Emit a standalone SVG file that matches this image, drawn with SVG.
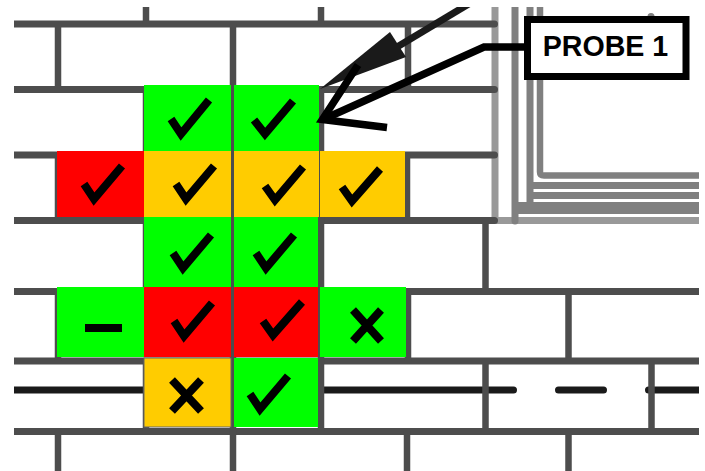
<svg xmlns="http://www.w3.org/2000/svg" width="705" height="471" viewBox="0 0 705 471">
<defs>
<clipPath id="frame"><rect x="14" y="7" width="685" height="464"/></clipPath>
</defs>
<style>
.w{stroke:#4d4d4d;stroke-width:7;fill:none;stroke-linecap:round}
.v{stroke:#4d4d4d;stroke-width:6.500;fill:none}
.g{stroke:#808080;fill:none;stroke-linecap:round}
.lg{stroke:#999;stroke-width:7;fill:none}
.m{stroke:#000;stroke-width:7.500;fill:none;stroke-linejoin:miter;stroke-miterlimit:10}
.gr{fill:#0f0}.or{fill:#fc0}.re{fill:#f00}
.k{stroke:#000;stroke-width:8;fill:none}
</style>
<rect width="705" height="471" fill="#fff"/>
<g id="building" clip-path="url(#frame)">
<path d="M10 390H513.500M558.500 390H603.500M648.500 390H710" stroke="#1a1a1a" stroke-width="7" stroke-linecap="round" fill="none"/>
<path class="lg" d="M495 7V220.500H699"/>
<g class="g">
<path d="M515 4V221" stroke-width="7"/>
<path d="M530 4V204" stroke-width="7" stroke-linecap="butt"/>
<path d="M540 4V172Q540 175.500 544 175.500H710" stroke-width="6.500"/>
<path d="M532 185.500H710M532 195.500H710" stroke-width="7" stroke-linecap="butt"/>
<path d="M515 208H710" stroke-width="12" stroke-linecap="butt"/>
</g>
<circle cx="651" cy="16.500" r="3.500" fill="#808080"/>
<path class="w" d="M4 24H494.500M4 89.500H494.500M4 155H494.500M4 220.500H494.500M4 291.500H710M4 361H710M4 431.500H710"/>
<path class="v" d="M146 4V24M321 4V24M58 24V89M233 24V89M408 24V89M146 89V155M233 89V155M321 89V155M58 155V220M233 155V220M321 155V220M407 155V220M146 220V291M233 220V291M321 220V291M485.500 220V291M58 291V361M233 291V361M321 291V361M408 291V361M568.500 291V361M146 361V431M233 361V431M321 361V431M485.500 361V431M651.500 361V431M58 431V475M233 431V475M407 431V475M568.500 431V475"/>
</g>
<g id="cells">
<g id="c1"><rect class="gr" x="144" y="85" width="87" height="66"/><path class="k" d="M171 119L181 134L209 100"/></g>
<g id="c2"><rect class="gr" x="234" y="85" width="85" height="66"/><path class="k" d="M254 120L265 134L293 101"/></g>
<g id="c3"><rect class="re" x="57" y="151" width="87" height="66"/><path class="k" d="M84 184L94 199L122 166"/></g>
<g id="c4"><rect class="or" x="144" y="151" width="87" height="66"/><path class="k" d="M176 184L186 199L214 166"/></g>
<g id="c5"><rect class="or" x="234" y="151" width="85" height="66"/><path class="k" d="M265 186L275 200L303 167"/></g>
<g id="c6"><rect class="or" x="320" y="151" width="85" height="66"/><path class="k" d="M342 187L352 201L380 169"/></g>
<g id="c7"><rect class="gr" x="144" y="217" width="87" height="70"/><path class="k" d="M173 253L183 268L211 235"/></g>
<g id="c8"><rect class="gr" x="234" y="217" width="84" height="70"/><path class="k" d="M256 253L266 268L294 235"/></g>
<g id="c9"><rect class="gr" x="57" y="287" width="87" height="70"/><path class="k" d="M85 328H122"/></g>
<g id="c10"><rect class="re" x="144" y="287" width="87" height="70"/><path class="k" d="M174 321L184 336L212 303"/></g>
<g id="c11"><rect class="re" x="234" y="287" width="84" height="70"/><path class="k" d="M263 321L273 335L302 302"/></g>
<g id="c12"><rect class="gr" x="320" y="287" width="86" height="70"/><path class="k" d="M353 310L381 341M381 310L353 341"/></g>
<g id="c13"><rect class="or" x="144" y="358" width="87" height="69" stroke="#666"/><path class="k" d="M172 380L201 411M201 380L172 411"/></g>
<g id="c14"><rect class="gr" x="234" y="358" width="84" height="69"/><path class="k" d="M250 394L260 409L288 376"/></g>
</g>
<g id="connectors">
<path d="M472 2L392 50" stroke="#1a1a1a" stroke-width="7" fill="none" clip-path="url(#frame)"/>
<path d="M390 32L406 57L320 89Z" fill="#1a1a1a"/>
<path class="m" d="M525 47H484L324 119"/>
<path class="m" d="M358 65L322.400 119.500L387 127.500"/>
</g>
<g id="probe">
<rect x="527.500" y="19.500" width="158.500" height="57" fill="#fff" stroke="#000" stroke-width="7"/>
<text x="605.500" y="56" font-family="Liberation Sans, Arial, sans-serif" font-size="28.600" font-weight="700" text-anchor="middle" fill="#000">PROBE 1</text>
</g>
</svg>
